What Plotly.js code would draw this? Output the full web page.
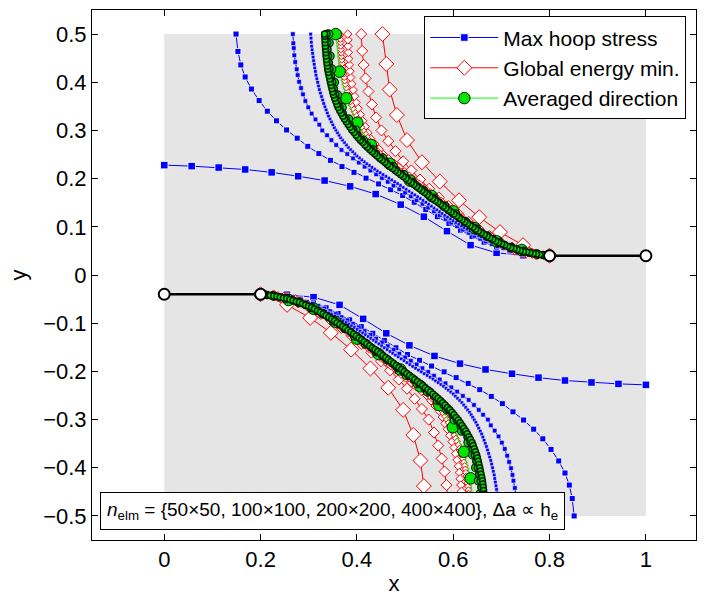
<!DOCTYPE html>
<html>
<head>
<meta charset="utf-8">
<script src="https://cdn.plot.ly/plotly-3.0.1.min.js"></script>
<style>html,body{margin:0;padding:0;background:#fff;}#plot{width:707px;height:596px;}</style>
</head>
<body>
<div id="plot"></div>
<script>
// ---------------- data (upper crack branch) ----------------
const domainX = [0, 1];
const domainY = [-0.5, 0.5];
const crackTopX = [0.8, 1.0];
const crackTopY = [0.04, 0.04];
const crackBotX = [0.0, 0.2];
const crackBotY = [-0.04, -0.04];

const seriesNames = ["Max hoop stress", "Global energy min.", "Averaged direction"];
const meshLabels = ["50×50", "100×100", "200×200", "400×400"];

// Max hoop stress
const hoop50X = [0.800,0.745,0.690,0.636,0.587,0.539,0.491,0.439,0.386,0.333,0.278,0.223,0.168,0.113,0.057,0.000];
const hoop50Y = [0.040,0.041,0.046,0.062,0.091,0.121,0.146,0.168,0.184,0.196,0.205,0.213,0.219,0.223,0.226,0.228];
const hoop100X = [0.800,0.772,0.744,0.717,0.690,0.664,0.639,0.615,0.591,0.567,0.543,0.519,0.495,0.470,0.445,0.419,0.394,0.369,0.345,0.321,0.298,0.276,0.254,0.233,0.214,0.197,0.181,0.168,0.159,0.153,0.149];
const hoop100Y = [0.040,0.041,0.044,0.050,0.058,0.068,0.080,0.093,0.107,0.121,0.136,0.151,0.165,0.177,0.189,0.201,0.213,0.225,0.238,0.252,0.267,0.284,0.301,0.320,0.340,0.362,0.386,0.411,0.436,0.464,0.500];
const hoop200X = [0.800,0.788,0.776,0.764,0.752,0.740,0.728,0.716,0.704,0.692,0.680,0.668,0.656,0.644,0.632,0.620,0.608,0.596,0.584,0.572,0.560,0.548,0.536,0.524,0.512,0.500,0.488,0.476,0.464,0.452,0.440,0.428,0.416,0.404,0.392,0.380,0.368,0.357,0.347,0.338,0.328,0.322,0.314,0.306,0.299,0.293,0.288,0.284,0.280,0.277,0.275,0.272,0.270,0.269,0.268,0.267];
const hoop200Y = [0.0400,0.0404,0.0411,0.0423,0.0440,0.0460,0.0488,0.0518,0.0554,0.0596,0.0640,0.0694,0.0750,0.0810,0.0874,0.0940,0.1012,0.1086,0.1164,0.1242,0.1320,0.1398,0.1476,0.1554,0.1632,0.1710,0.1782,0.1856,0.1934,0.2012,0.2090,0.2168,0.2248,0.2332,0.2420,0.2510,0.2594,0.2698,0.2800,0.2900,0.3000,0.3120,0.3230,0.3350,0.3480,0.3610,0.3750,0.3880,0.4010,0.4150,0.4270,0.4420,0.4560,0.4710,0.4810,0.5000];
const hoop400X = [0.8000,0.7938,0.7875,0.7813,0.7750,0.7688,0.7625,0.7563,0.7500,0.7438,0.7375,0.7313,0.7250,0.7188,0.7125,0.7063,0.7000,0.6940,0.6880,0.6820,0.6760,0.6700,0.6640,0.6580,0.6520,0.6460,0.6400,0.6340,0.6280,0.6223,0.6165,0.6108,0.6050,0.5993,0.5935,0.5878,0.5820,0.5765,0.5710,0.5655,0.5600,0.5543,0.5485,0.5428,0.5370,0.5313,0.5255,0.5198,0.5140,0.5080,0.5020,0.4960,0.4900,0.4840,0.4780,0.4720,0.4660,0.4600,0.4540,0.4480,0.4420,0.4365,0.4310,0.4255,0.4200,0.4150,0.4100,0.4050,0.4000,0.3955,0.3910,0.3865,0.3820,0.3780,0.3740,0.3700,0.3660,0.3628,0.3595,0.3563,0.3530,0.3500,0.3470,0.3440,0.3410,0.3385,0.3360,0.3335,0.3310,0.3288,0.3265,0.3243,0.3220,0.3203,0.3185,0.3168,0.3150,0.3138,0.3125,0.3113,0.3100,0.3090,0.3080,0.3070,0.3060,0.3053,0.3047,0.3040];
const hoop400Y = [0.0400,0.0405,0.0410,0.0415,0.0420,0.0430,0.0440,0.0450,0.0460,0.0475,0.0490,0.0505,0.0520,0.0540,0.0560,0.0580,0.0600,0.0625,0.0650,0.0675,0.0700,0.0730,0.0760,0.0790,0.0820,0.0853,0.0885,0.0918,0.0950,0.0985,0.1020,0.1055,0.1090,0.1128,0.1165,0.1203,0.1240,0.1278,0.1315,0.1353,0.1390,0.1430,0.1470,0.1510,0.1550,0.1588,0.1625,0.1663,0.1700,0.1740,0.1780,0.1820,0.1860,0.1898,0.1935,0.1973,0.2010,0.2048,0.2085,0.2123,0.2160,0.2198,0.2235,0.2273,0.2310,0.2350,0.2390,0.2430,0.2470,0.2515,0.2560,0.2605,0.2650,0.2700,0.2750,0.2800,0.2850,0.2903,0.2955,0.3008,0.3060,0.3120,0.3180,0.3240,0.3300,0.3365,0.3430,0.3495,0.3560,0.3633,0.3705,0.3778,0.3850,0.3925,0.4000,0.4075,0.4150,0.4225,0.4300,0.4375,0.4450,0.4525,0.4600,0.4675,0.4750,0.4833,0.4917,0.5000];

// Global energy minimisation
const energy50X = [0.800,0.745,0.697,0.654,0.612,0.572,0.535,0.504,0.483,0.468,0.461,0.453];
const energy50Y = [0.040,0.062,0.089,0.120,0.155,0.194,0.234,0.280,0.332,0.385,0.438,0.500];
const energy100X = [0.800,0.773,0.747,0.722,0.698,0.675,0.653,0.632,0.611,0.590,0.570,0.550,0.531,0.513,0.496,0.480,0.465,0.451,0.440,0.431,0.424,0.418,0.414,0.411,0.409];
const energy100Y = [0.040,0.0425,0.048,0.057,0.068,0.081,0.095,0.110,0.126,0.143,0.161,0.179,0.198,0.217,0.236,0.257,0.278,0.300,0.327,0.354,0.381,0.408,0.436,0.465,0.500];
const energy200X = [0.800,0.788,0.776,0.764,0.752,0.740,0.728,0.717,0.706,0.695,0.684,0.673,0.662,0.651,0.640,0.629,0.618,0.607,0.596,0.585,0.574,0.563,0.552,0.541,0.530,0.519,0.509,0.4982,0.4874,0.4766,0.4658,0.455,0.4462,0.4374,0.4286,0.4227,0.4171,0.412,0.4072,0.4024,0.398,0.3951,0.3922,0.3893,0.3872,0.3857,0.3842,0.3828,0.3822,0.3818,0.3814,0.381];
const energy200Y = [0.0400,0.0410,0.0420,0.0433,0.0448,0.0473,0.0500,0.0555,0.0612,0.0675,0.0738,0.0808,0.0878,0.0949,0.1023,0.1108,0.1192,0.1277,0.1362,0.1446,0.1532,0.1619,0.1706,0.1794,0.1881,0.1968,0.205,0.214,0.223,0.232,0.241,0.250,0.261,0.272,0.283,0.295,0.308,0.320,0.333,0.346,0.358,0.371,0.384,0.397,0.410,0.423,0.436,0.449,0.462,0.475,0.488,0.500];
const energy400X = [0.800,0.793,0.786,0.779,0.772,0.765,0.758,0.751,0.744,0.737,0.730,0.724,0.718,0.712,0.706,0.700,0.694,0.688,0.682,0.676,0.670,0.664,0.658,0.652,0.646,0.640,0.634,0.628,0.622,0.616,0.610,0.604,0.598,0.592,0.586,0.580,0.574,0.568,0.562,0.556,0.550,0.544,0.538,0.532,0.526,0.520,0.514,0.5087,0.5031,0.4975,0.4919,0.4863,0.4806,0.4750,0.4694,0.4638,0.4580,0.4525,0.4470,0.4415,0.4370,0.4329,0.4288,0.4247,0.4208,0.4169,0.4130,0.4099,0.4068,0.4036,0.4006,0.3977,0.3948,0.3920,0.3891,0.3868,0.3845,0.3822,0.3802,0.3782,0.3761,0.3746,0.3736,0.3726,0.3715,0.3705,0.3695,0.3685,0.3678,0.3674,0.3669,0.3665,0.3661,0.3656,0.3652,0.3650];
const energy400Y = [0.0400,0.0406,0.0411,0.0417,0.0425,0.0436,0.0447,0.0458,0.0476,0.0494,0.0512,0.0531,0.0553,0.0575,0.0596,0.0624,0.0652,0.0681,0.0713,0.0750,0.0788,0.0829,0.0871,0.0914,0.0957,0.1000,0.1046,0.1092,0.1138,0.1185,0.1231,0.1277,0.1323,0.1369,0.1415,0.1462,0.1508,0.1554,0.1600,0.1646,0.1692,0.1738,0.1785,0.1831,0.1877,0.1923,0.1969,0.2010,0.2055,0.2100,0.2145,0.2190,0.2235,0.2280,0.2325,0.2370,0.2420,0.2475,0.2530,0.2585,0.2640,0.2695,0.2750,0.2805,0.2870,0.2935,0.3000,0.3065,0.3130,0.3195,0.3260,0.3325,0.3390,0.3455,0.3527,0.3599,0.3671,0.3743,0.3815,0.3887,0.3959,0.4031,0.4103,0.4175,0.4247,0.4319,0.4391,0.4463,0.4535,0.4607,0.4679,0.4751,0.4823,0.4895,0.4967,0.5000];

// Averaged direction
const averaged50X = [0.800,0.742,0.690,0.645,0.600,0.555,0.510,0.468,0.429,0.401,0.378,0.364,0.356];
const averaged50Y = [0.040,0.052,0.070,0.097,0.132,0.164,0.196,0.231,0.270,0.316,0.367,0.422,0.500];
const averaged100X = [0.8000,0.7737,0.7468,0.7204,0.6952,0.6710,0.6476,0.6250,0.6044,0.5822,0.5600,0.5378,0.5158,0.4968,0.4748,0.4532,0.4326,0.4132,0.3976,0.3822,0.3690,0.3594,0.3530,0.3474,0.3440,0.3420,0.3410];
const averaged100Y = [0.0400,0.0434,0.0490,0.0568,0.0675,0.0805,0.0952,0.1105,0.1265,0.1426,0.1589,0.1755,0.1919,0.2084,0.2251,0.2424,0.2603,0.2797,0.3008,0.3237,0.3475,0.3734,0.3998,0.4271,0.4543,0.4819,0.5000];
const averaged200X = [0.8000,0.7864,0.7727,0.7593,0.7458,0.7326,0.7194,0.7068,0.6942,0.6821,0.6700,0.6583,0.6466,0.6353,0.6240,0.6127,0.6014,0.5903,0.5792,0.5701,0.5590,0.5479,0.5368,0.5258,0.5148,0.5038,0.4928,0.4818,0.4708,0.4600,0.4492,0.4399,0.4296,0.4199,0.4102,0.4014,0.3926,0.3849,0.3772,0.3706,0.3640,0.3602,0.3554,0.3522,0.3490,0.3462,0.3434,0.3417,0.3400,0.3390,0.3380,0.3370];
const averaged200Y = [0.0400,0.0417,0.0434,0.0462,0.0490,0.0529,0.0568,0.0622,0.0675,0.0740,0.0805,0.0879,0.0952,0.1029,0.1105,0.1185,0.1265,0.1346,0.1426,0.1508,0.1589,0.1672,0.1755,0.1837,0.1919,0.2002,0.2084,0.2168,0.2251,0.2338,0.2424,0.2514,0.2603,0.2700,0.2797,0.2903,0.3008,0.3123,0.3237,0.3356,0.3475,0.3605,0.3734,0.3866,0.3998,0.4135,0.4271,0.4407,0.4543,0.4681,0.4819,0.5000];
const averaged400X = [0.8000,0.7932,0.7864,0.7795,0.7727,0.7660,0.7593,0.7525,0.7458,0.7392,0.7326,0.7260,0.7194,0.7131,0.7068,0.7005,0.6942,0.6882,0.6821,0.6761,0.6700,0.6642,0.6583,0.6525,0.6466,0.6410,0.6353,0.6297,0.6240,0.6184,0.6127,0.6071,0.6014,0.5959,0.5903,0.5848,0.5792,0.5737,0.5681,0.5626,0.5570,0.5515,0.5459,0.5404,0.5348,0.5293,0.5238,0.5183,0.5128,0.5073,0.5018,0.4963,0.4908,0.4853,0.4798,0.4743,0.4688,0.4634,0.4580,0.4526,0.4472,0.4421,0.4369,0.4318,0.4266,0.4218,0.4169,0.4121,0.4072,0.4028,0.3984,0.3940,0.3896,0.3858,0.3819,0.3781,0.3742,0.3709,0.3676,0.3643,0.3610,0.3586,0.3562,0.3538,0.3514,0.3498,0.3482,0.3466,0.3450,0.3436,0.3422,0.3408,0.3394,0.3386,0.3377,0.3369,0.3360,0.3355,0.3350,0.3345,0.3340,0.3337,0.3333,0.3330];
const averaged400Y = [0.0400,0.0409,0.0417,0.0426,0.0434,0.0448,0.0462,0.0476,0.0490,0.0510,0.0529,0.0549,0.0568,0.0595,0.0622,0.0648,0.0675,0.0708,0.0740,0.0773,0.0805,0.0842,0.0879,0.0915,0.0952,0.0990,0.1029,0.1067,0.1105,0.1145,0.1185,0.1225,0.1265,0.1305,0.1346,0.1386,0.1426,0.1467,0.1508,0.1548,0.1589,0.1631,0.1672,0.1714,0.1755,0.1796,0.1837,0.1878,0.1919,0.1960,0.2002,0.2043,0.2084,0.2126,0.2168,0.2209,0.2251,0.2294,0.2338,0.2381,0.2424,0.2469,0.2514,0.2558,0.2603,0.2652,0.2700,0.2749,0.2797,0.2850,0.2903,0.2955,0.3008,0.3065,0.3123,0.3180,0.3237,0.3297,0.3356,0.3416,0.3475,0.3540,0.3605,0.3669,0.3734,0.3800,0.3866,0.3932,0.3998,0.4066,0.4135,0.4203,0.4271,0.4339,0.4407,0.4475,0.4543,0.4612,0.4681,0.4750,0.4819,0.4888,0.4957,0.5000];

// ---------------- styles ----------------
const FONT = 'Liberation Sans, Arial, Helvetica, sans-serif';
const BLUE = 'rgb(0,0,255)', RED = 'rgb(255,0,0)', GREEN_LINE = 'rgb(0,255,0)', GREEN_FILL = 'rgb(0,230,0)';
const hoopSize = [7.5, 6, 4.5, 3.5];
const energySize = [11.5, 8.5, 6.5, 5];
const avgSize = [11.5, 8.5, 7, 6];
const avgEdge = [1, 1.2, 1.5, 1.5];

// The lower branch is the point reflection of the upper one about (0.5, 0)
const reflectX = xs => xs.map(v => +(1 - v).toFixed(4));
const reflectY = ys => ys.map(v => -v);

const traces = [];
function addCurve(xs, ys, family, k, legendName) {
  let line, marker;
  if (family === 'hoop') {
    line = {color: BLUE, width: 1};
    marker = {symbol: 'square', size: hoopSize[k], color: BLUE, line: {color: 'rgba(255,255,255,0.85)', width: k < 2 ? 1 : 0.6}};
  } else if (family === 'energy') {
    line = {color: RED, width: 1};
    marker = {symbol: 'diamond', size: energySize[k], color: 'white', line: {color: RED, width: 1}};
  } else {
    line = {color: GREEN_LINE, width: 1};
    marker = {symbol: 'circle', size: avgSize[k], color: GREEN_FILL, line: {color: 'rgb(0,30,0)', width: avgEdge[k]}};
  }
  [[xs, ys, legendName], [reflectX(xs), reflectY(ys), null]].forEach(([x, y, nm]) => {
    traces.push({type: 'scatter', mode: 'lines+markers', x: x, y: y, line: line, marker: marker,
      name: nm || (family + ' ' + meshLabels[k]), showlegend: !!nm, hoverinfo: 'skip'});
  });
}
const hoopSets = [[hoop50X,hoop50Y],[hoop100X,hoop100Y],[hoop200X,hoop200Y],[hoop400X,hoop400Y]];
const energySets = [[energy50X,energy50Y],[energy100X,energy100Y],[energy200X,energy200Y],[energy400X,energy400Y]];
const avgSets = [[averaged50X,averaged50Y],[averaged100X,averaged100Y],[averaged200X,averaged200Y],[averaged400X,averaged400Y]];
hoopSets.forEach((s, k) => addCurve(s[0], s[1], 'hoop', k, k === 0 ? seriesNames[0] : null));
energySets.forEach((s, k) => addCurve(s[0], s[1], 'energy', k, k === 0 ? seriesNames[1] : null));
avgSets.forEach((s, k) => addCurve(s[0], s[1], 'avg', k, k === 0 ? seriesNames[2] : null));

// Initial cracks
[[crackTopX, crackTopY], [crackBotX, crackBotY]].forEach(([x, y]) => {
  traces.push({type: 'scatter', mode: 'lines+markers', x: x, y: y, showlegend: false, hoverinfo: 'skip',
    line: {color: 'black', width: 2.5},
    marker: {symbol: 'circle', size: 11, color: 'white', line: {color: 'black', width: 2}}});
});

const layout = {
  width: 707, height: 596,
  margin: {l: 92, r: 11, t: 10, b: 56},
  paper_bgcolor: 'white', plot_bgcolor: 'white',
  font: {family: FONT, size: 22, color: 'black'},
  showlegend: true,
  legend: {x: 0.984, y: 0.988, xanchor: 'right', yanchor: 'top', bgcolor: 'white',
    bordercolor: 'black', borderwidth: 1, font: {family: FONT, size: 21, color: 'black'},
    itemwidth: 68, tracegroupgap: 0, traceorder: 'normal'},
  xaxis: {range: [-0.15, 1.104], tickvals: [0, 0.2, 0.4, 0.6, 0.8, 1], showgrid: false, zeroline: false,
    showline: true, mirror: 'ticks', linecolor: 'black', linewidth: 1,
    ticks: 'inside', ticklen: 6, tickcolor: 'black', tickfont: {family: FONT, size: 22},
    title: {text: 'x', font: {family: FONT, size: 22}, standoff: 4}},
  yaxis: {range: [-0.55, 0.55], tickvals: [-0.5,-0.4,-0.3,-0.2,-0.1,0,0.1,0.2,0.3,0.4,0.5], showgrid: false, zeroline: false,
    showline: true, mirror: 'ticks', linecolor: 'black', linewidth: 1,
    ticks: 'inside', ticklen: 6, tickcolor: 'black', tickfont: {family: FONT, size: 22},
    title: {text: 'y', font: {family: FONT, size: 22}, standoff: 10}},
  shapes: [{type: 'rect', xref: 'x', yref: 'y', x0: domainX[0], x1: domainX[1], y0: domainY[0], y1: domainY[1],
    fillcolor: 'rgb(229,229,229)', line: {width: 0}, layer: 'below'}],
  annotations: [{xref: 'paper', yref: 'paper', x: 0.0133, y: 0.055, xanchor: 'left', yanchor: 'middle',
    text: '<i>n</i><sub>elm</sub> = {' + meshLabels.join(', ') + '}, Δa ∝ h<sub>e</sub>',
    showarrow: false, bgcolor: 'white', bordercolor: 'black', borderwidth: 1, borderpad: 6,
    font: {family: FONT, size: 19, color: 'black'}}]
};

Plotly.newPlot('plot', traces, layout, {staticPlot: true, displayModeBar: false});
</script>
</body>
</html>
